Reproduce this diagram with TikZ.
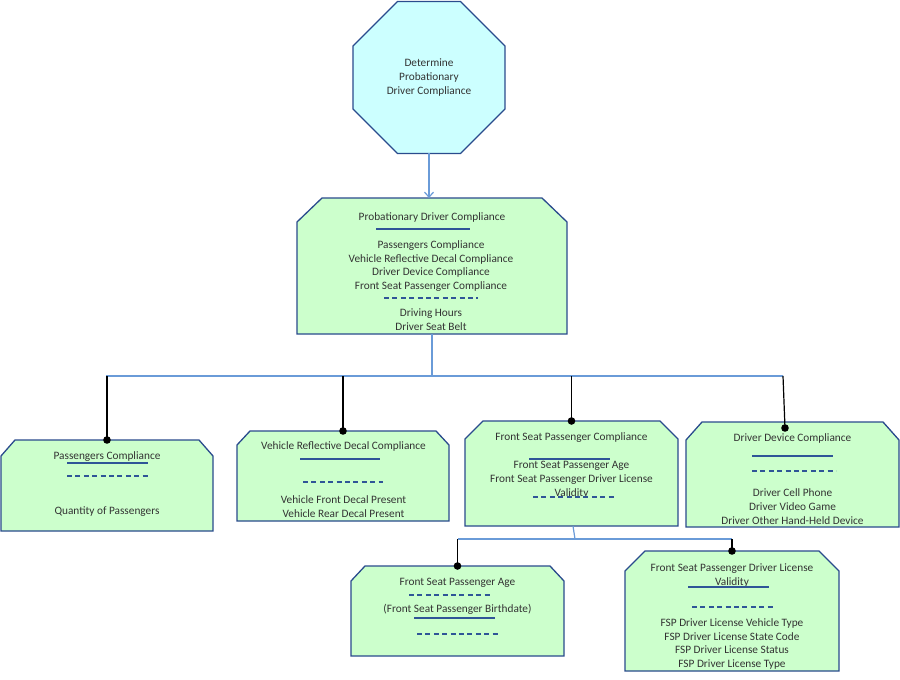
\documentclass[tikz,border=0pt]{standalone}
\usepackage{fontspec}
\setmainfont{Carlito}
\usetikzlibrary{shapes.geometric,arrows.meta}
\definecolor{bord}{HTML}{2A4B8D}
\definecolor{gfill}{HTML}{CCFFCC}
\definecolor{cfill}{HTML}{CCFFFF}
\definecolor{sepc}{HTML}{2F5597}
\definecolor{busc}{HTML}{6A9BD8}
\definecolor{txt}{HTML}{333333}
% area node: name, x1, y1, x2, y2
\newcommand\areanode[5]{\node[area, minimum width={#4-#2}, minimum height={#5-#3}] (#1) at ({(#2+#4)/2},{(#3+#5)/2}) {};}
% chamfered outline: name, chamfer x, chamfer y
\newcommand\chamf[3]{\draw[boxline] ([yshift=-#3pt]#1.north west) -- ([xshift=#2pt]#1.north west) -- ([xshift=-#2pt]#1.north east) -- ([yshift=-#3pt]#1.north east) -- (#1.south east) -- (#1.south west) -- cycle;}
% text line: name, x, y, text
\newcommand\tl[4]{\node[tline] (#1) at (#2,#3) {#4};}
\begin{document}
\begin{tikzpicture}[x=1pt,y=-1pt,
  area/.style={rectangle, inner sep=0pt, outer sep=0pt},
  boxline/.style={draw=bord, fill=gfill, line width=1.3pt, line join=miter},
  tline/.style={anchor=base, yshift=-3.5pt, inner sep=0pt, text=txt, font=\fontsize{11.3}{13.6}\selectfont},
  sol/.style={sepc, line width=1.1pt},
  dsh/.style={sepc, line width=1.1pt, dash pattern=on 5pt off 3.4pt},
  bus/.style={busc, line width=1.2pt},
  drop/.style={black, line width=1.2pt},
  octo/.style={regular polygon, regular polygon sides=8, minimum size=164.5pt, inner sep=0pt, outer sep=0pt,
    draw=bord, fill=cfill, line width=1.3pt, align=center, text=txt, font=\fontsize{11.3}{13.6}\selectfont}]
\fill[white] (0,0) rectangle (900,680);
\useasboundingbox (0,0) rectangle (900,680);

% top octagon
\node[octo] (oct) at (429,77.5) {Determine\\Probationary\\Driver Compliance};

% boxes
\areanode{pdc}{297}{198}{567}{334}
\areanode{b1}{1}{440}{213}{531}
\areanode{b2}{237}{431}{449}{521}
\areanode{b3}{465}{421}{678}{526}
\areanode{b4}{686}{422}{899}{527}
\areanode{b5}{351}{566}{564}{656}
\areanode{b6}{625}{551}{839}{671}
\chamf{pdc}{25}{24}
\chamf{b1}{14}{16}
\chamf{b2}{13}{14}
\chamf{b3}{18}{18}
\chamf{b4}{16}{18}
\chamf{b5}{14}{15}
\chamf{b6}{20}{20}

% connectors
\draw[busc, line width=1.2pt, -{Straight Barb[length=5pt,width=9pt]}] (oct.south) -- (oct.south |- pdc.north);
\coordinate (bL) at (106,376);
\coordinate (bR) at (783,376);
\draw[bus] (pdc.south) -- (pdc.south |- bL);
\draw[bus] (bL) -- (bR);
\coordinate (d4) at ([xshift=-7.5pt,yshift=-6pt]b4.north);
\draw[drop] (b1.north |- bL) -- (b1.north);
\draw[drop] (b2.north |- bL) -- (b2.north);
\draw[drop] (b3.north |- bL) -- (b3.north);
\draw[drop] (bR) -- (d4);
\fill (b1.north) circle (3.8pt);
\fill (b2.north) circle (3.8pt);
\fill (b3.north) circle (3.8pt);
\fill (d4) circle (3.8pt);

\coordinate (cL) at (457.5,539);
\coordinate (cR) at (732,539);
\coordinate (cM) at (575,539);
\draw[bus] ([xshift=1.5pt]b3.south) -- (cM);
\draw[bus] (cL) -- (cR);
\draw[drop] (cL) -- (b5.north);
\draw[drop] (cR) -- (b6.north);
\fill (b5.north) circle (3.8pt);
\fill (b6.north) circle (3.8pt);

% main box text
\tl{p1}{432}{217}{Probationary Driver Compliance}
\draw[sol] (376,229) -- (470,229);
\tl{p2}{431}{245}{Passengers Compliance}
\tl{p3}{431}{259}{Vehicle Reflective Decal Compliance}
\tl{p4}{431}{272}{Driver Device Compliance}
\tl{p5}{431}{286}{Front Seat Passenger Compliance}
\draw[dsh] (384,298) -- (478,298);
\tl{p6}{431}{313}{Driving Hours}
\tl{p7}{431}{327}{Driver Seat Belt}

% box 1
\tl{a1}{107}{456}{Passengers Compliance}
\draw[sol] (67,463) -- (148,463);
\draw[dsh] (67,476) -- (148,476);
\tl{a2}{107}{511}{Quantity of Passengers}

% box 2
\tl{v1}{343.5}{446}{Vehicle Reflective Decal Compliance}
\draw[sol] (300,459) -- (380,459);
\draw[dsh] (303,482) -- (383,482);
\tl{v2}{343.5}{500}{Vehicle Front Decal Present}
\tl{v3}{343.5}{514}{Vehicle Rear Decal Present}

% box 3
\tl{f1}{571.5}{437}{Front Seat Passenger Compliance}
\draw[sol] (529,459) -- (610,459);
\tl{f2}{571.5}{465}{Front Seat Passenger Age}
\tl{f3}{571.5}{479}{Front Seat Passenger Driver License}
\tl{f4}{571.5}{493}{Validity}
\draw[dsh] (533,497) -- (615,497);

% box 4
\tl{g1}{792.5}{438}{Driver Device Compliance}
\draw[sol] (752,456) -- (833,456);
\draw[dsh] (752,471) -- (836,471);
\tl{g2}{792.5}{493}{Driver Cell Phone}
\tl{g3}{792.5}{507}{Driver Video Game}
\tl{g4}{792.5}{521}{Driver Other Hand-Held Device}

% box 5
\tl{h1}{457.5}{582}{Front Seat Passenger Age}
\draw[dsh] (409,595) -- (492,595);
\tl{h2}{457.5}{609}{(Front Seat Passenger Birthdate)}
\draw[sol] (414,618) -- (495,618);
\draw[dsh] (417,634) -- (499,634);

% box 6
\tl{k1}{732}{568}{Front Seat Passenger Driver License}
\tl{k2}{732}{582}{Validity}
\draw[sol] (688,587) -- (769,587);
\draw[dsh] (692,607) -- (773,607);
\tl{k3}{732}{623}{FSP Driver License Vehicle Type}
\tl{k4}{732}{637}{FSP Driver License State Code}
\tl{k5}{732}{650}{FSP Driver License Status}
\tl{k6}{732}{664}{FSP Driver License Type}
\end{tikzpicture}
\end{document}
